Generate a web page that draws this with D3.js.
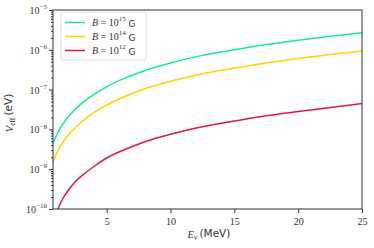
<!DOCTYPE html>
<html>
<head>
<meta charset="utf-8">
<script src="https://cdn.jsdelivr.net/npm/d3@7"></script>
<style>
  body { margin: 0; background: #fff; }
  svg { display: block; }
  .axis path, .axis line { stroke: #333; }
  .serif { font-family: "Liberation Serif", "DejaVu Serif", serif; }
  .sans { font-family: "DejaVu Sans", sans-serif; }
</style>
</head>
<body>
<div id="chart"></div>
<script>
// energies (MeV) and V_eff (eV)
const energies = [0.8, 1, 1.25, 1.5, 2, 2.5, 3, 4, 5, 6, 8, 10, 12.5, 15, 17.5, 20, 22.5, 25];
const vB15 = [4.37e-9, 6.31e-9, 9.12e-9, 1.26e-8, 2.09e-8, 3.09e-8, 4.37e-8, 7.59e-8, 1.17e-7, 1.70e-7,
  3.02e-7, 4.68e-7, 7.24e-7, 1.00e-6, 1.35e-6, 1.74e-6, 2.19e-6, 2.69e-6];
const vB14 = [1.51e-9, 2.19e-9, 3.16e-9, 4.37e-9, 7.24e-9, 1.07e-8, 1.51e-8, 2.63e-8, 4.07e-8, 5.89e-8,
  1.05e-7, 1.62e-7, 2.51e-7, 3.47e-7, 4.68e-7, 6.03e-7, 7.59e-7, 9.33e-7];
const energiesB12 = [1.1, 1.19, 1.5, 2, 2.5, 3, 4, 5, 6, 8, 10, 12.5, 15, 17.5, 20, 22.5, 25];
const vB12 = [8.3e-11, 1.0e-10, 1.66e-10, 2.95e-10, 4.68e-10, 6.61e-10, 1.17e-9, 1.91e-9, 2.75e-9, 4.90e-9,
  7.59e-9, 1.17e-8, 1.62e-8, 2.19e-8, 2.82e-8, 3.55e-8, 4.47e-8];

const xTicks = [5, 10, 15, 20, 25];
const yExponents = [-10, -9, -8, -7, -6, -5];
const seriesLabels = ['15', '14', '12'];

const width = 374, height = 248;
const margin = { top: 10, right: 12, bottom: 39, left: 53 };

const svg = d3.select('#chart').append('svg')
  .attr('width', width)
  .attr('height', height);

const x = d3.scaleLinear().domain([0.8, 25]).range([margin.left, width - margin.right]);
const y = d3.scaleLog().domain([1e-10, 1e-5]).range([height - margin.bottom, margin.top]);

svg.append('defs').append('clipPath').attr('id', 'clip')
  .append('rect')
  .attr('x', margin.left).attr('y', margin.top)
  .attr('width', x.range()[1] - margin.left)
  .attr('height', y.range()[0] - margin.top);

// curves
const series = [
  { e: energies, v: vB15, color: '#15e99c', label: seriesLabels[0] },
  { e: energies, v: vB14, color: '#ffd200', label: seriesLabels[1] },
  { e: energiesB12, v: vB12, color: '#e2173f', label: seriesLabels[2] },
];

const line = d3.line()
  .x((d) => x(d[0]))
  .y((d) => y(d[1]))
  .curve(d3.curveNatural);

svg.append('g').attr('clip-path', 'url(#clip)')
  .selectAll('path')
  .data(series)
  .join('path')
  .attr('fill', 'none')
  .attr('stroke', (d) => d.color)
  .attr('stroke-width', 1.5)
  .attr('d', (d) => line(d.e.map((e, i) => [e, d.v[i]])));

// x axis
const xAxisG = svg.append('g')
  .attr('class', 'axis')
  .attr('transform', `translate(0,${y.range()[0]})`)
  .call(d3.axisBottom(x).tickValues(xTicks).tickSize(4).tickSizeOuter(0).tickFormat(d3.format('d')));
xAxisG.select('.domain').remove();
xAxisG.selectAll('text')
  .attr('class', 'serif')
  .attr('font-size', 10)
  .attr('fill', '#333')
  .attr('dy', '0.85em');

// y axis, minor ticks first
const minorTicks = [];
yExponents.slice(0, -1).forEach((p) => {
  for (let k = 2; k <= 9; k += 1) minorTicks.push(k * Math.pow(10, p));
});
const yMinorG = svg.append('g')
  .attr('class', 'axis')
  .attr('transform', `translate(${margin.left},0)`)
  .call(d3.axisLeft(y).tickValues(minorTicks).tickSize(2).tickFormat(''));
yMinorG.select('.domain').remove();

const yAxisG = svg.append('g')
  .attr('class', 'axis')
  .attr('transform', `translate(${margin.left},0)`)
  .call(d3.axisLeft(y).tickValues(yExponents.map((p) => Math.pow(10, p))).tickSize(4).tickFormat(''));
yAxisG.select('.domain').remove();

yAxisG.selectAll('.tick').each(function (d) {
  const t = d3.select(this).append('text')
    .attr('class', 'serif')
    .attr('x', -6)
    .attr('dy', '0.35em')
    .attr('text-anchor', 'end')
    .attr('fill', '#333')
    .attr('font-size', 10);
  t.append('tspan').text('10');
  t.append('tspan')
    .attr('font-size', 7)
    .attr('dy', '-0.7em')
    .text('\u2212' + Math.abs(Math.round(Math.log10(d))));
});

// frame
svg.append('rect')
  .attr('x', margin.left).attr('y', margin.top)
  .attr('width', x.range()[1] - margin.left)
  .attr('height', y.range()[0] - margin.top)
  .attr('fill', 'none')
  .attr('stroke', '#333')
  .attr('stroke-width', 1);

// axis labels
const xl = svg.append('text')
  .attr('x', 209)
  .attr('y', 238)
  .attr('text-anchor', 'middle')
  .attr('font-size', 10.5)
  .attr('fill', '#333');
xl.append('tspan').attr('class', 'serif').attr('font-style', 'italic').text('E');
xl.append('tspan').attr('class', 'serif').attr('font-style', 'italic').attr('font-size', 7.5).attr('dy', '0.3em').text('\u03bd');
xl.append('tspan').attr('class', 'sans').attr('dy', '-0.3em').text('\u2009(MeV)');

const yl = svg.append('text')
  .attr('transform', `translate(13,113) rotate(-90)`)
  .attr('text-anchor', 'middle')
  .attr('font-size', 10.5)
  .attr('fill', '#333');
yl.append('tspan').attr('class', 'serif').attr('font-style', 'italic').text('V');
yl.append('tspan').attr('class', 'serif').attr('font-size', 7.5).attr('dy', '0.3em').text('eff');
yl.append('tspan').attr('class', 'sans').attr('dy', '-0.3em').text('\u2009(eV)');

// legend
const legend = svg.append('g').attr('transform', 'translate(61,12)');
legend.append('rect')
  .attr('width', 85).attr('height', 48)
  .attr('rx', 2)
  .attr('fill', '#fff')
  .attr('fill-opacity', 0.8)
  .attr('stroke', '#d6d6d6')
  .attr('stroke-width', 0.8);

const rows = legend.selectAll('.row')
  .data(series)
  .join('g')
  .attr('class', 'row')
  .attr('transform', (d, i) => `translate(0,${10.5 + i * 14})`);
rows.append('line')
  .attr('x1', 4).attr('x2', 24)
  .attr('stroke', (d) => d.color)
  .attr('stroke-width', 1.5);
const lt = rows.append('text')
  .attr('x', 31)
  .attr('dy', '0.35em')
  .attr('font-size', 10)
  .attr('fill', '#333');
lt.append('tspan').attr('class', 'serif').attr('font-style', 'italic').text('B');
lt.append('tspan').attr('class', 'serif').text(' = 10');
lt.append('tspan').attr('class', 'serif').attr('font-size', 7).attr('dy', '-0.7em').text((d) => d.label);
lt.append('tspan').attr('class', 'sans').attr('font-size', 9).attr('dy', '0.7em').text(' G');
</script>
</body>
</html>
